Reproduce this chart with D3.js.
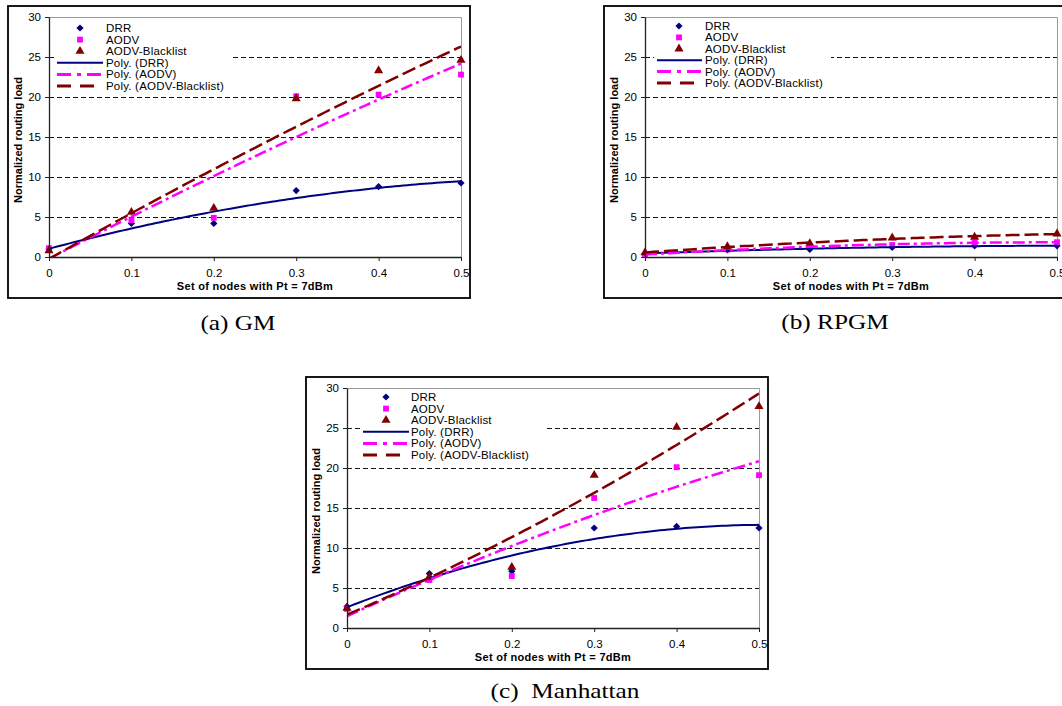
<!DOCTYPE html>
<html><head><meta charset="utf-8">
<script src="https://cdn.jsdelivr.net/npm/d3@7"></script>
<style>
body{margin:0;background:#fff;}
svg{display:block;font-family:"Liberation Sans",Arial,sans-serif;}
</style></head>
<body>
<svg id="chart" width="1062" height="706"></svg>
<script>
// ---- data ----
const xValues = [0, 0.1, 0.2, 0.3, 0.4, 0.5];
const xTickLabels = ["0", "0.1", "0.2", "0.3", "0.4", "0.5"];
const yTicks = [0, 5, 10, 15, 20, 25, 30];
const seriesNames = ["DRR", "AODV", "AODV-Blacklist"];
const trendNames = ["Poly. (DRR)", "Poly. (AODV)", "Poly. (AODV-Blacklist)"];

const gmDRR = [1.0, 4.2, 4.2, 8.3, 8.8, 9.25];
const gmAODV = [1.1, 4.6, 4.9, 20.1, 20.3, 22.8];
const gmBlacklist = [0.8, 5.6, 6.1, 19.8, 23.3, 24.6];

const rpgmDRR = [0.4, 0.9, 0.95, 1.2, 1.4, 1.4];
const rpgmAODV = [0.25, 0.95, 1.3, 1.5, 1.8, 1.85];
const rpgmBlacklist = [0.55, 1.3, 1.7, 2.4, 2.5, 2.9];

const manDRR = [2.7, 6.8, 7.1, 12.5, 12.7, 12.5];
const manAODV = [2.4, 6.0, 6.5, 16.25, 20.1, 19.1];
const manBlacklist = [2.5, 6.4, 7.6, 19.1, 25.1, 27.7];

const xTitle = "Set of nodes with Pt = 7dBm";
const yTitle = "Normalized routing load";

// ---- styles ----
const colors = ["#000080", "#FF00FF", "#800000"];
const dashes = [null, "12,4,3,4", "14,5"];

const panels = [
  {key:"a", series:[gmDRR, gmAODV, gmBlacklist], caption:"(a) GM", capX:238, capY:330,
   border:[8,6,470,298], plot:[49,17,461,257],
   leg:{mx:80, tx:106, lx1:57, lx2:103, y0:28, dy:11.6, box:[54,20,231,92]}},
  {key:"b", series:[rpgmDRR, rpgmAODV, rpgmBlacklist], caption:"(b) RPGM", capX:835, capY:329,
   border:[604,6,1070,298], plot:[645,17,1057,257],
   leg:{mx:679, tx:705, lx1:657, lx2:702, y0:26, dy:11.4, box:[654,18,831,90]}},
  {key:"c", series:[manDRR, manAODV, manBlacklist], caption:"(c)  Manhattan", capX:565, capY:698,
   border:[306,377,768,669], plot:[347,388,759,628],
   leg:{mx:386, tx:411, lx1:363, lx2:409, y0:397, dy:11.6, box:[360,389,545,461]}}
];

function polyfit2(xs, ys){
  // least squares quadratic trendline (as the original chart's "Poly." trendline)
  const S = k => d3.sum(xs, x => Math.pow(x, k));
  const T = k => d3.sum(xs, (x,i) => Math.pow(x, k) * ys[i]);
  const A = [[S(0),S(1),S(2),T(0)],[S(1),S(2),S(3),T(1)],[S(2),S(3),S(4),T(2)]];
  for (let i=0;i<3;i++){
    let p=i; for(let r=i+1;r<3;r++) if(Math.abs(A[r][i])>Math.abs(A[p][i])) p=r;
    [A[i],A[p]]=[A[p],A[i]];
    for(let r=0;r<3;r++){ if(r===i) continue; const f=A[r][i]/A[i][i]; for(let c=i;c<4;c++) A[r][c]-=f*A[i][c]; }
  }
  const co = [A[0][3]/A[0][0], A[1][3]/A[1][1], A[2][3]/A[2][2]];
  return x => co[0] + co[1]*x + co[2]*x*x;
}

const svg = d3.select("#chart");
const diamond = d3.symbol().type(d3.symbolSquare).size(26);
const square = d3.symbol().type(d3.symbolSquare).size(34);
const triangle = d3.symbol().type(d3.symbolTriangle).size(36);
const symbols = [diamond, square, triangle];
const rot = [45, 0, 0];

panels.forEach(p => {
  const g = svg.append("g");
  const [bx1,by1,bx2,by2] = p.border;
  g.append("rect").attr("x",bx1).attr("y",by1).attr("width",bx2-bx1).attr("height",by2-by1)
    .attr("fill","#fff").attr("stroke","#000").attr("stroke-width",1.8);
  const [px1,py1,px2,py2] = p.plot;
  const x = d3.scaleLinear().domain([0,0.5]).range([px1,px2]);
  const y = d3.scaleLinear().domain([0,30]).range([py2,py1]);

  // plot area border (grey top/right)
  g.append("path").attr("d",`M${px1},${py1+0.5}H${px2+0.5}V${py2}`).attr("fill","none")
    .attr("stroke","#9a9a9a").attr("stroke-width",1);

  // gridlines
  g.selectAll(".grid").data(yTicks.filter(t=>t>0 && t<30)).join("line")
    .attr("x1",px1).attr("x2",px2).attr("y1",d=>Math.round(y(d))+0.5).attr("y2",d=>Math.round(y(d))+0.5)
    .attr("stroke","#111").attr("stroke-width",1.1).attr("stroke-dasharray","5,3");

  // clip
  const clipId = "clip-"+p.key;
  g.append("clipPath").attr("id",clipId).append("rect")
    .attr("x",px1).attr("y",py1).attr("width",px2-px1).attr("height",py2-py1);

  // markers
  p.series.forEach((s,si) => {
    g.append("g").selectAll("path").data(s).join("path")
      .attr("transform",(d,i)=>`translate(${x(xValues[i])},${y(d)}) rotate(${rot[si]})`)
      .attr("d",symbols[si]()).attr("fill",colors[si]);
  });

  // trend lines
  const samples = d3.range(0, 101).map(i => i*0.005);
  p.series.forEach((s,si) => {
    const f = polyfit2(xValues, s);
    const line = d3.line().x(d=>x(d)).y(d=>y(f(d)));
    g.append("path").attr("clip-path",`url(#${clipId})`).attr("d",line(samples))
      .attr("fill","none").attr("stroke",colors[si]).attr("stroke-width",si===0?2:2.5)
      .attr("stroke-dasharray",dashes[si]);
  });

  // axes
  const xAxis = d3.axisBottom(x).tickValues(xValues).tickFormat((d,i)=>xTickLabels[i]).tickSize(4).tickSizeOuter(0).tickPadding(8);
  const gx = g.append("g").attr("transform",`translate(0,${py2})`).call(xAxis);
  const yAxis = d3.axisLeft(y).tickValues(yTicks).tickSize(4).tickSizeOuter(0).tickPadding(4);
  const gy = g.append("g").attr("transform",`translate(${px1},0)`).call(yAxis);
  [gx,gy].forEach(a => {
    a.select(".domain").attr("stroke","#222").attr("stroke-width",1.3);
    a.selectAll(".tick line").attr("stroke","#222");
    a.selectAll("text").attr("font-size",11.5).attr("fill","#000").attr("font-family","Liberation Sans, Arial, sans-serif");
  });

  // axis titles
  g.append("text").attr("x",(px1+px2)/2).attr("y",py2+33).attr("text-anchor","middle")
    .attr("font-size",11).attr("font-weight","bold").attr("letter-spacing",0.3).text(xTitle);
  g.append("text").attr("transform",`translate(${bx1+14},${(py1+py2)/2 + 3}) rotate(-90)`)
    .attr("text-anchor","middle").attr("font-size",11).attr("font-weight","bold").text(yTitle);

  // legend
  const L = p.leg;
  g.append("rect").attr("x",L.box[0]).attr("y",L.box[1]).attr("width",L.box[2]-L.box[0]).attr("height",L.box[3]-L.box[1]).attr("fill","#fff");
  seriesNames.forEach((n,i) => {
    const yy = L.y0 + i*L.dy;
    g.append("path").attr("transform",`translate(${L.mx},${yy}) rotate(${rot[i]})`).attr("d",symbols[i]()).attr("fill",colors[i]);
    g.append("text").attr("x",L.tx).attr("y",yy+4).attr("font-size",11.5).attr("letter-spacing",0.2).text(n);
  });
  trendNames.forEach((n,i) => {
    const yy = L.y0 + (i+3)*L.dy;
    g.append("line").attr("x1",L.lx1).attr("x2",L.lx2).attr("y1",yy).attr("y2",yy)
      .attr("stroke",colors[i]).attr("stroke-width",i===0?2:3).attr("stroke-dasharray",i===0?null:(i===1?"14,6,4,6":"14,9"));
    g.append("text").attr("x",L.tx).attr("y",yy+4).attr("font-size",11.5).attr("letter-spacing",0.2).text(n);
  });

  // caption
  g.append("text").attr("transform",`translate(${p.capX},${p.capY}) scale(1.15,1)`)
    .attr("text-anchor","middle").attr("font-family","Liberation Serif, Times New Roman, serif")
    .attr("font-size",22).attr("fill","#000").style("white-space","pre").text(p.caption);
});
</script>
</body></html>
